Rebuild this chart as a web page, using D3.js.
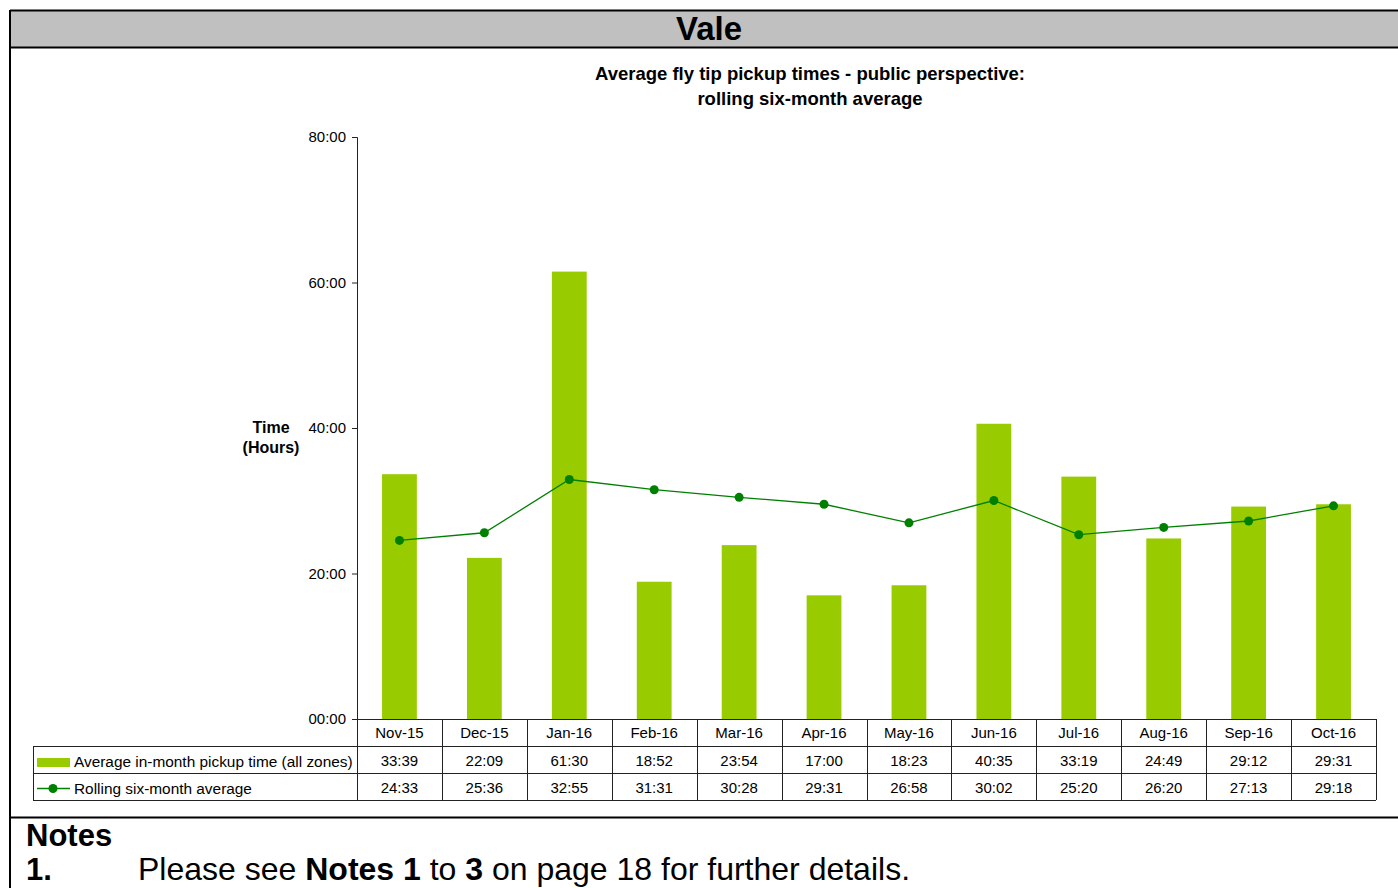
<!DOCTYPE html>
<html>
<head>
<meta charset="utf-8">
<script src="https://cdn.jsdelivr.net/npm/d3@7"></script>
<style>
  body { margin: 0; background: #fff; }
  svg { display: block; font-family: Arial, "Liberation Sans", sans-serif; }
</style>
</head>
<body>
<svg id="chart"></svg>
<script>
// chart values (hh:mm)
var months = ["Nov-15", "Dec-15", "Jan-16", "Feb-16", "Mar-16", "Apr-16",
  "May-16", "Jun-16", "Jul-16", "Aug-16", "Sep-16", "Oct-16"];
var inMonth = ["33:39", "22:09", "61:30", "18:52", "23:54", "17:00",
  "18:23", "40:35", "33:19", "24:49", "29:12", "29:31"];
var rolling = ["24:33", "25:36", "32:55", "31:31", "30:28", "29:31",
  "26:58", "30:02", "25:20", "26:20", "27:13", "29:18"];
var yTicks = [0, 20, 40, 60, 80];
var seriesNames = ["Average in-month pickup time (all zones)", "Rolling six-month average"];

var W = 1398, H = 888;
var plot = { left: 357, right: 1376, top: 137, bottom: 719 };
var rowH = 27;

function toHours(s) {
  var p = s.split(":");
  return +p[0] + (+p[1]) / 60;
}
function fmtTick(v) {
  return String(v).padStart(2, "0") + ":00";
}

const svg = d3.select("#chart").attr("width", W).attr("height", H);

// header band + frame
svg.append("rect").attr("x", 10).attr("y", 10).attr("width", W).attr("height", 37)
  .attr("fill", "#c0c0c0");
svg.append("line").attr("x1", 10).attr("x2", W).attr("y1", 10.5).attr("y2", 10.5)
  .attr("stroke", "#000").attr("stroke-width", 2);
svg.append("line").attr("x1", 10).attr("x2", W).attr("y1", 47.5).attr("y2", 47.5)
  .attr("stroke", "#000").attr("stroke-width", 2);
svg.append("line").attr("x1", 10).attr("x2", 10).attr("y1", 10).attr("y2", H)
  .attr("stroke", "#000").attr("stroke-width", 2);
svg.append("line").attr("x1", 10).attr("x2", W).attr("y1", 817.5).attr("y2", 817.5)
  .attr("stroke", "#000").attr("stroke-width", 2);

svg.append("text").attr("x", 709).attr("y", 40).attr("text-anchor", "middle")
  .attr("font-size", "33px").attr("font-weight", "bold").text("Vale");

// chart title
svg.append("text").attr("x", 810).attr("y", 80).attr("text-anchor", "middle")
  .attr("font-size", "18.5px").attr("font-weight", "bold")
  .text("Average fly tip pickup times - public perspective:");
svg.append("text").attr("x", 810).attr("y", 105).attr("text-anchor", "middle")
  .attr("font-size", "18.5px").attr("font-weight", "bold")
  .text("rolling six-month average");

// scales
const xCol = d3.scaleBand().domain(months).range([plot.left, plot.right]).padding(0);
const xBar = d3.scaleBand().domain(months).range([plot.left, plot.right])
  .paddingInner(0.59).paddingOuter(0.295);
const y = d3.scaleLinear().domain([0, 80]).range([plot.bottom, plot.top]);

// y axis
const yAxis = svg.append("g")
  .attr("transform", `translate(${plot.left},0)`)
  .call(d3.axisLeft(y).tickValues(yTicks).tickFormat(fmtTick).tickSize(5).tickPadding(6));
yAxis.select(".domain").attr("stroke", "#222");
yAxis.selectAll(".tick line").attr("stroke", "#222");
yAxis.selectAll("text").attr("font-size", "15px").attr("fill", "#000")
  .attr("font-family", "Arial, 'Liberation Sans', sans-serif");

// y title
svg.append("text").attr("x", 271).attr("y", 433).attr("text-anchor", "middle")
  .attr("font-size", "16px").attr("font-weight", "bold").text("Time");
svg.append("text").attr("x", 271).attr("y", 453).attr("text-anchor", "middle")
  .attr("font-size", "16px").attr("font-weight", "bold").text("(Hours)");

// bars
svg.append("g").selectAll("rect")
  .data(months)
  .join("rect")
  .attr("x", d => xBar(d))
  .attr("width", xBar.bandwidth())
  .attr("y", (d, i) => y(toHours(inMonth[i])))
  .attr("height", (d, i) => plot.bottom - y(toHours(inMonth[i])))
  .attr("fill", "#99cc00");

// rolling line
const line = d3.line()
  .x((d, i) => xCol(months[i]) + xCol.bandwidth() / 2)
  .y(d => y(toHours(d)));
svg.append("path").datum(rolling)
  .attr("d", line).attr("fill", "none")
  .attr("stroke", "#008000").attr("stroke-width", 1.3);
svg.append("g").selectAll("circle")
  .data(rolling)
  .join("circle")
  .attr("cx", (d, i) => xCol(months[i]) + xCol.bandwidth() / 2)
  .attr("cy", d => y(toHours(d)))
  .attr("r", 4.5)
  .attr("fill", "#008000");

// data table
const table = svg.append("g");
const tStroke = "#222";
const legX = 33;
const r0 = plot.bottom, r1 = r0 + rowH, r2 = r1 + rowH, r3 = r2 + rowH;

// horizontal lines
table.append("line").attr("x1", plot.left).attr("x2", plot.right)
  .attr("y1", r0 + 0.5).attr("y2", r0 + 0.5).attr("stroke", tStroke);
[r1, r2, r3].forEach(function (yy) {
  table.append("line").attr("x1", legX).attr("x2", plot.right)
    .attr("y1", yy + 0.5).attr("y2", yy + 0.5).attr("stroke", tStroke);
});
// vertical lines
table.append("line").attr("x1", legX + 0.5).attr("x2", legX + 0.5)
  .attr("y1", r1).attr("y2", r3).attr("stroke", tStroke);
months.forEach(function (m) {
  var xx = Math.round(xCol(m)) + 0.5;
  table.append("line").attr("x1", xx).attr("x2", xx)
    .attr("y1", r0).attr("y2", r3).attr("stroke", tStroke);
});
table.append("line").attr("x1", plot.right + 0.5).attr("x2", plot.right + 0.5)
  .attr("y1", r0).attr("y2", r3).attr("stroke", tStroke);

// cell texts
function cellText(arr, yy) {
  table.append("g").selectAll("text")
    .data(arr)
    .join("text")
    .attr("x", (d, i) => xCol(months[i]) + xCol.bandwidth() / 2)
    .attr("y", yy)
    .attr("text-anchor", "middle")
    .attr("font-size", "15px")
    .text(d => d);
}
cellText(months, r0 + 19);
cellText(inMonth, r1 + 20);
cellText(rolling, r2 + 20);

// legend entries in the table
table.append("rect").attr("x", 37).attr("y", r1 + 12).attr("width", 33).attr("height", 9)
  .attr("fill", "#99cc00");
table.append("text").attr("x", 74).attr("y", r1 + 21).attr("font-size", "15.4px")
  .text(seriesNames[0]);
table.append("line").attr("x1", 37).attr("x2", 70)
  .attr("y1", r2 + 15.5).attr("y2", r2 + 15.5)
  .attr("stroke", "#008000").attr("stroke-width", 1.3);
table.append("circle").attr("cx", 53).attr("cy", r2 + 15.5).attr("r", 4.5)
  .attr("fill", "#008000");
table.append("text").attr("x", 74).attr("y", r2 + 21).attr("font-size", "15.4px")
  .text(seriesNames[1]);

// notes
svg.append("text").attr("x", 26).attr("y", 846).attr("font-size", "31px")
  .attr("font-weight", "bold").text("Notes");
svg.append("text").attr("x", 26).attr("y", 880).attr("font-size", "31px")
  .attr("font-weight", "bold").text("1.");
const note = svg.append("text").attr("x", 138).attr("y", 880).attr("font-size", "32px");
note.append("tspan").text("Please see ");
note.append("tspan").attr("font-weight", "bold").text("Notes 1");
note.append("tspan").text(" to ");
note.append("tspan").attr("font-weight", "bold").text("3");
note.append("tspan").text(" on page 18 for further details.");
</script>
</body>
</html>
